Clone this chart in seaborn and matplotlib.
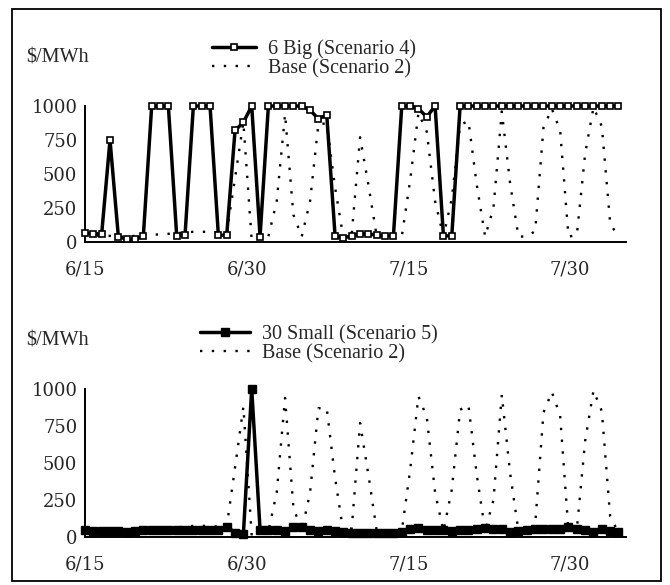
import numpy as np
import pandas as pd
import matplotlib
matplotlib.use("Agg")
import matplotlib.pyplot as plt
from matplotlib.patches import Rectangle
from matplotlib.lines import Line2D
from matplotlib.font_manager import FontProperties
import seaborn as sns

# ---------------- data ----------------
DATE_LABELS = ["6/15", "6/30", "7/15", "7/30"]
Y_TICKS = [0, 250, 500, 750, 1000]
UNIT = "$/MWh"
BIG6_LABEL = "6 Big (Scenario 4)"
SMALL30_LABEL = "30 Small (Scenario 5)"
BASE_LABEL = "Base (Scenario 2)"

BIG6 = [65, 60, 60, 750, 40, 20, 20, 45, 1000, 1000,
        1000, 45, 50, 1000, 1000, 1000, 50, 50, 820, 880,
        1000, 40, 1000, 1000, 1000, 1000, 1000, 970, 905, 935,
        45, 30, 45, 60, 60, 50, 45, 45, 1000, 1000,
        980, 920, 1000, 45, 45, 1000, 1000, 1000, 1000, 1000,
        1000, 1000, 1000, 1000, 1000, 1000, 1000, 1000, 1000, 1000,
        1000, 1000, 1000, 1000, 1000]

SMALL30 = [45, 40, 40, 40, 40, 35, 40, 45, 45, 45,
           45, 45, 45, 45, 45, 45, 50, 70, 30, 20,
           1000, 50, 50, 45, 40, 65, 65, 50, 40, 50,
           40, 35, 30, 30, 30, 30, 30, 30, 35, 55,
           60, 45, 50, 45, 40, 50, 45, 55, 60, 55,
           55, 35, 40, 50, 55, 55, 55, 55, 70, 55,
           50, 35, 55, 40, 35]

BASE = [50, 50, 45, 45, 40, 40, 45, 50, 55, 55,
        60, 65, 70, 75, 75, 75, 70, 70, 470, 880,
        10, 30, 40, 300, 940, 200, 40, 300, 870, 870,
        400, 30, 60, 770, 420, 40, 40, 40, 40, 450,
        950, 810, 300, 40, 320, 860, 890, 420, 40, 250,
        960, 430, 40, 40, 80, 840, 980, 820, 40, 50,
        650, 990, 850, 140, 30]

# ---------------- layout ----------------
W, H, DPI = 670, 585, 100
PTS_PER_TICK = 19.4          # data points between two date ticks (15 days)
X_END = 64.9                 # right end of the x axis, in point units
SERIF = ["Liberation Serif", "DejaVu Serif"]
TICKFONT = ["DejaVu Serif", "Liberation Serif"]

sns.set_theme(style="white")
plt.rcParams["font.family"] = TICKFONT
plt.rcParams["axes.edgecolor"] = "black"

TEXT_PROP = FontProperties(family=SERIF, size=14.5)

idx = np.arange(len(BASE))
df = pd.DataFrame({"i": idx, "big6": BIG6, "small30": SMALL30, "base": BASE})

fig = plt.figure(figsize=(W / DPI, H / DPI), dpi=DPI)


def px_axes(x0, x1, ytop, ybot):
    return fig.add_axes([x0 / W, (H - ybot) / H, (x1 - x0) / W, (ybot - ytop) / H])


def style_axes(ax):
    ax.set_xlim(0, X_END)
    ax.set_ylim(0, 1000)
    for s in ["top", "right"]:
        ax.spines[s].set_visible(False)
    for s in ["left", "bottom"]:
        ax.spines[s].set_linewidth(1.4)
        ax.spines[s].set_color("black")
    ax.set_xticks([k * PTS_PER_TICK for k in range(len(DATE_LABELS))])
    ax.set_xticklabels(DATE_LABELS, fontfamily=TICKFONT)
    ax.set_yticks(Y_TICKS)
    ax.set_yticklabels([str(v) for v in Y_TICKS], fontfamily=TICKFONT)
    ax.tick_params(axis="x", direction="out", length=4, width=1.3, color="black",
                   pad=9, labelsize=13)
    ax.tick_params(axis="y", direction="out", length=4, width=1.3, color="black",
                   pad=1.5, labelsize=13)
    ax.set_xlabel("")
    ax.set_ylabel("")
    ax.grid(False)
    ax.set_facecolor("white")


DOT = (0, (1, 4))
LW_MAIN = 2.5
LW_DOT = 1.7

# ---------- top panel ----------
ax1 = px_axes(85, 626, 106, 242)
sns.lineplot(data=df, x="i", y="base", ax=ax1, color="black", lw=LW_DOT,
             linestyle=DOT, clip_on=False, zorder=2, legend=False)
sns.lineplot(data=df, x="i", y="big6", ax=ax1, color="black", lw=LW_MAIN,
             marker="s", markersize=5, markerfacecolor="white",
             markeredgecolor="black", markeredgewidth=1.2,
             clip_on=False, zorder=3, legend=False)
style_axes(ax1)

h_big = Line2D([], [], color="black", lw=LW_MAIN, marker="s", markersize=5,
               markerfacecolor="white", markeredgecolor="black", markeredgewidth=1.2)
h_base = Line2D([], [], color="black", lw=LW_DOT, linestyle=DOT)
ax1.legend([h_big, h_base], [BIG6_LABEL, BASE_LABEL], frameon=False,
           loc="center left", bbox_to_anchor=(212 / W, (H - 59) / H),
           bbox_transform=fig.transFigure, prop=TEXT_PROP, handlelength=2.2,
           handletextpad=0.6, labelspacing=0.0, borderpad=0,
           borderaxespad=0, numpoints=1)
fig.text(26 / W, (H - 58) / H, UNIT, fontproperties=TEXT_PROP, ha="left", va="center")

# ---------- bottom panel ----------
ax2 = px_axes(85, 626, 389, 537)
sns.lineplot(data=df, x="i", y="base", ax=ax2, color="black", lw=LW_DOT,
             linestyle=DOT, clip_on=False, zorder=2, legend=False)
sns.lineplot(data=df, x="i", y="small30", ax=ax2, color="black", lw=LW_MAIN,
             marker="s", markersize=5.5, markerfacecolor="black",
             markeredgecolor="black", markeredgewidth=1.0,
             clip_on=False, zorder=3, legend=False)
style_axes(ax2)

h_small = Line2D([], [], color="black", lw=LW_MAIN, marker="s", markersize=5.5,
                 markerfacecolor="black", markeredgecolor="black")
ax2.legend([h_small, h_base], [SMALL30_LABEL, BASE_LABEL], frameon=False,
           loc="center left", bbox_to_anchor=(200 / W, (H - 344) / H),
           bbox_transform=fig.transFigure, prop=TEXT_PROP, handlelength=2.5,
           handletextpad=0.6, labelspacing=0.0, borderpad=0,
           borderaxespad=0, numpoints=1)
fig.text(26 / W, (H - 341) / H, UNIT, fontproperties=TEXT_PROP, ha="left", va="center")

# outer frame
fig.add_artist(Rectangle((12 / W, (H - 581) / H), (661 - 12) / W, (581 - 9) / H,
                         transform=fig.transFigure, fill=False, lw=1.3,
                         ec="black", zorder=10))

fig.savefig("out.png", dpi=DPI, facecolor="white")
